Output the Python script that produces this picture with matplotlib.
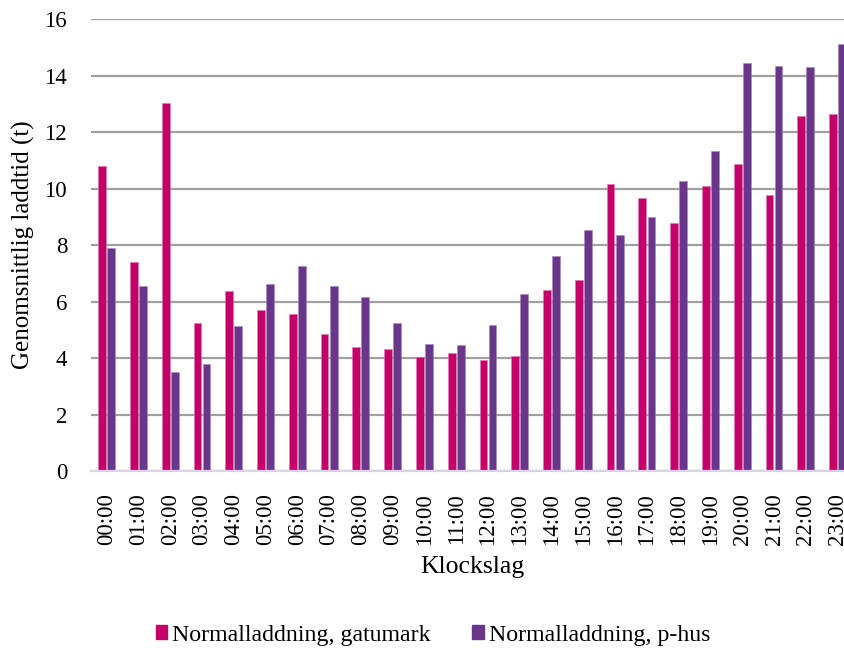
import matplotlib
matplotlib.use("Agg")
import matplotlib.pyplot as plt
from matplotlib.patches import Patch
import numpy as np

hours = ["00:00", "01:00", "02:00", "03:00", "04:00", "05:00", "06:00", "07:00",
         "08:00", "09:00", "10:00", "11:00", "12:00", "13:00", "14:00", "15:00",
         "16:00", "17:00", "18:00", "19:00", "20:00", "21:00", "22:00", "23:00"]
gatumark = [10.81, 7.40, 13.03, 5.23, 6.36, 5.72, 5.55, 4.87,
            4.40, 4.32, 4.05, 4.19, 3.95, 4.08, 6.40, 6.77,
            10.18, 9.68, 8.77, 10.09, 10.89, 9.77, 12.58, 12.63]
phus = [7.90, 6.55, 3.50, 3.78, 5.13, 6.63, 7.27, 6.55,
        6.15, 5.26, 4.51, 4.45, 5.19, 6.28, 7.63, 8.54,
        8.35, 8.99, 10.27, 11.32, 14.44, 14.35, 14.30, 15.13]
series_names = ["Normalladdning, gatumark", "Normalladdning, p-hus"]
yticks = [0, 2, 4, 6, 8, 10, 12, 14, 16]

pink = "#C4006A"
purple = "#69368A"

plt.rcParams['font.family'] = ['Liberation Serif', 'DejaVu Serif']

fig = plt.figure(figsize=(8.45, 6.48), dpi=100)
ax = fig.add_axes([0.1074, 0.2731, 0.9026, 0.6971])

x = np.arange(len(hours))
w = 0.245
off = 0.142
ax.bar(x - off, gatumark, width=w, color=pink, edgecolor="#E07AAE", linewidth=0.4, zorder=3)
ax.bar(x + off, phus, width=w, color=purple, edgecolor="#A58AC0", linewidth=0.4, zorder=3)

ax.set_xlim(-0.5, len(hours) - 0.5)
ax.set_ylim(0, 16)
ax.set_yticks(yticks)
ax.set_yticklabels([str(v) for v in yticks])
ax.set_xticks(x)
ax.set_xticklabels(hours, rotation=90)

ax.yaxis.grid(True, color="#A0A0A0", linewidth=1.6, zorder=0)
ax.set_axisbelow(True)
for s in ["top", "right", "left"]:
    ax.spines[s].set_visible(False)
ax.spines["bottom"].set_color("#D9D2E9")
ax.spines["bottom"].set_linewidth(1.6)
ax.spines["bottom"].set_zorder(4)

ax.tick_params(axis="both", length=0, labelsize=16.5, colors="#000000")
ax.tick_params(axis="y", pad=17)
ax.tick_params(axis="x", pad=16)

ax.set_ylabel("Genomsnittlig laddtid (t)", fontsize=18)
ax.yaxis.set_label_coords(-0.0725, 0.5)
ax.set_xlabel("Klockslag", fontsize=18.5, labelpad=8)

handles = [Patch(facecolor=pink, edgecolor=pink), Patch(facecolor=purple, edgecolor=purple)]
fig.legend(handles, series_names, loc="center", bbox_to_anchor=(433 / 845, 1 - 635 / 648),
           ncol=2, frameon=False, fontsize=17.2, handlelength=0.48, handleheight=0.48,
           handletextpad=0.2, columnspacing=1.75)

fig.savefig("out.png", dpi=100)
